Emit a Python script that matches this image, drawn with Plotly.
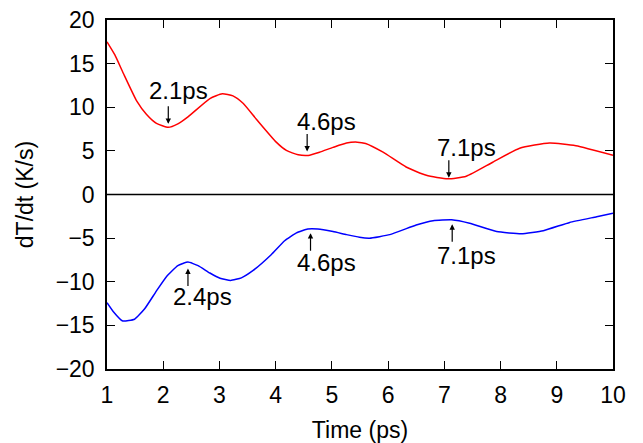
import plotly.graph_objects as go

# Red curve (upper)
red_t = [1.0, 1.14, 1.29, 1.53, 1.70, 1.88, 2.09, 2.26, 2.44, 2.83, 3.05, 3.24, 3.42, 3.66,
         4.01, 4.19, 4.40, 4.58, 4.78, 5.02, 5.26, 5.45, 5.60, 5.91, 6.32, 6.68, 7.06, 7.39,
         7.86, 8.34, 8.87, 9.34, 10.0]
red_v = [17.5, 16.0, 13.9, 10.7, 9.2, 8.15, 7.7, 8.1, 8.9, 11.0, 11.55, 11.3, 10.45, 8.6,
         6.0, 5.05, 4.55, 4.48, 4.85, 5.4, 5.9, 6.0, 5.85, 4.85, 3.15, 2.2, 1.8, 2.1,
         3.7, 5.3, 5.9, 5.6, 4.5]

# Blue curve (lower)
blue_t = [1.0, 1.11, 1.28, 1.49, 1.67, 1.88, 2.06, 2.26, 2.44, 2.62, 2.83, 3.01, 3.20, 3.39,
          3.60, 3.92, 4.16, 4.37, 4.57, 4.75, 5.02, 5.26, 5.49, 5.67, 6.03, 6.5, 6.80, 7.13,
          7.45, 7.93, 8.37, 8.76, 9.23, 9.71, 10.0]
blue_v = [-12.4, -13.4, -14.5, -14.3, -13.1, -11.05, -9.4, -8.15, -7.75, -8.15, -9.0, -9.6,
          -9.85, -9.55, -8.7, -6.9, -5.3, -4.4, -3.95, -3.95, -4.25, -4.6, -4.9, -5.0, -4.6,
          -3.5, -3.0, -2.9, -3.3, -4.25, -4.5, -4.15, -3.2, -2.55, -2.15]

x_ticks = [1, 2, 3, 4, 5, 6, 7, 8, 9, 10]
y_ticks = [-20, -15, -10, -5, 0, 5, 10, 15, 20]

# annotation labels
labels = ["2.1ps", "4.6ps", "7.1ps", "2.4ps", "4.6ps", "7.1ps"]
arrow_t = [2.09, 4.56, 7.08, 2.44, 4.62, 7.14]
arrow_v = [8.1, 4.93, 1.93, -8.48, -4.43, -3.41]
text_t = [2.28, 4.90, 7.39, 2.70, 4.90, 7.39]
text_v = [11.9, 8.34, 5.42, -11.74, -7.84, -6.97]
arrow_dir = [-1, -1, -1, 1, 1, 1]   # -1: arrow points down, 1: arrow points up

FONT = "Liberation Sans, Arial, Helvetica, sans-serif"
FS = 23
FA = 24

fig = go.Figure()
fig.add_trace(go.Scatter(x=red_t, y=red_v, mode="lines",
                         line=dict(color="#ff0000", width=1.5, shape="spline", smoothing=0.5),
                         showlegend=False))
fig.add_trace(go.Scatter(x=blue_t, y=blue_v, mode="lines",
                         line=dict(color="#0000ff", width=1.5, shape="spline", smoothing=0.4),
                         showlegend=False))

annotations = []
for lab, at, av, tt, tv, d in zip(labels, arrow_t, arrow_v, text_t, text_v, arrow_dir):
    annotations.append(dict(x=at, y=av, xref="x", yref="y", text="", showarrow=True,
                            ax=0, ay=19 * d, arrowhead=2, arrowsize=0.9, arrowwidth=1.2,
                            arrowcolor="black"))
    annotations.append(dict(x=tt, y=tv, xref="x", yref="y", text=lab, showarrow=False,
                            font=dict(family=FONT, size=FA, color="black"),
                            xanchor="center", yanchor="middle"))

fig.update_layout(
    width=627, height=435,
    margin=dict(l=99, r=22, t=12, b=74, autoexpand=False),
    paper_bgcolor="white", plot_bgcolor="white",
    font=dict(family=FONT, size=FS, color="black"),
    annotations=annotations,
    shapes=[dict(type="line", xref="paper", yref="y", x0=0, x1=1, y0=0, y1=0,
                 line=dict(color="black", width=1.5))],
    xaxis=dict(range=[1, 10], tickvals=x_ticks, ticks="inside", ticklen=8, tickwidth=1,
               tickcolor="black", showline=True, linecolor="black", linewidth=1.5,
               mirror="ticks", showgrid=False, zeroline=False, automargin=False,
               ticklabelstandoff=5, ticklabeloverflow="allow",
               title=dict(text="Time (ps)", font=dict(size=FS), standoff=22),
               tickfont=dict(size=FS)),
    yaxis=dict(range=[-20, 20], tickvals=y_ticks, ticks="inside", ticklen=8, tickwidth=1,
               tickcolor="black", showline=True, linecolor="black", linewidth=1.5,
               mirror="ticks", showgrid=False, zeroline=False, automargin=False,
               ticklabelstandoff=6, ticklabeloverflow="allow",
               title=dict(text="dT/dt (K/s)", font=dict(size=FS), standoff=16),
               tickfont=dict(size=FS)),
)

fig.write_html("out.html")
